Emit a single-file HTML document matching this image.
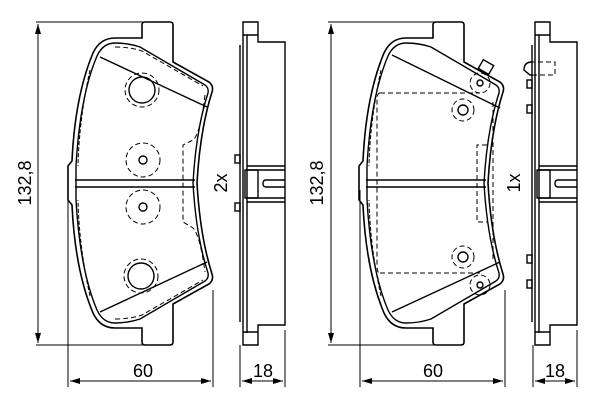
<!DOCTYPE html>
<html><head><style>body{margin:0;background:#fff}svg{display:block}</style></head><body>
<svg width="600" height="400" viewBox="0 0 600 400" xmlns="http://www.w3.org/2000/svg" font-family="Liberation Sans, sans-serif">
<defs>
<marker id="a" markerWidth="10" markerHeight="6" refX="10" refY="3" orient="auto-start-reverse" markerUnits="userSpaceOnUse"><path d="M0,0 L10,3 L0,6 z" fill="#000"/></marker>
<g id="pad">
<path d="M142,38 L142,25 Q142,22 145,22 L170,22 Q173,22 173,25 L173,62 L209,82 Q214,86 212,92 Q200,130 197,183 Q200,236 212,274 Q214,280 209,284 L173,304 L173,342 Q173,345 170,345 L145,345 Q142,345 142,342 L142,328 L115,328 Q100,328 93,313 Q75,270 72,205 L68,200 L68,166 L72,161 Q75,96 93,53 Q100,38 115,38 Z" fill="none" stroke="#000" stroke-width="1.6"/>
<path d="M115,43 Q128,43 140,47 L205,85 Q209,88 208,93 Q196,130 193,183 Q196,236 208,273 Q209,278 205,281 L140,319 Q128,323 115,323 Q103,323 97,310 Q80,270 76,200 L76,166 Q80,96 97,56 Q103,43 115,43 Z" fill="none" stroke="#000" stroke-width="1.4"/>
<path d="M90,70 Q79,120 78,166 M90,296 Q79,246 78,200" fill="none" stroke="#000" stroke-width="1" stroke-dasharray="4,2"/>
<path d="M75,180 L195,180 M75,187 L195,187" stroke="#000" stroke-width="1.5"/>
</g>
<g id="side" fill="none" stroke="#000" stroke-width="1.4">
<path d="M243,22 L258,22 L258,42 L285,42 L285,325 L258,325 L258,345 L243,345 Z"/>
<path d="M240,45 L240,322 M247,35 L247,333 M243,35 L258,35 M243,332 L258,332"/>
<path d="M247,166 L285,166 M247,170 L285,170 M247,198 L285,198 M247,202 L285,202"/>
<rect x="245" y="170" width="13" height="28"/>
<path d="M285,180 L266,180 Q263,180 263,183.5 Q263,187 266,187 L285,187"/>
</g>
</defs>
<g fill="none" stroke="#000" stroke-width="1">
<path d="M36,22 L145,22 M36,345 L145,345 M68,190 L68,387 M213,290 L213,387 M240,345 L240,387 M285,330 L285,387"/>
<path d="M38,24 L38,343" marker-start="url(#a)" marker-end="url(#a)"/>
<path d="M70,381 L211,381" marker-start="url(#a)" marker-end="url(#a)"/>
<path d="M242,381 L283,381" marker-start="url(#a)" marker-end="url(#a)"/>
<path d="M328,22 L436,22 M328,345 L436,345 M360,190 L360,387 M505,290 L505,387 M533,345 L533,387 M577,330 L577,387"/>
<path d="M331,24 L331,343" marker-start="url(#a)" marker-end="url(#a)"/>
<path d="M362,381 L503,381" marker-start="url(#a)" marker-end="url(#a)"/>
<path d="M535,381 L575,381" marker-start="url(#a)" marker-end="url(#a)"/>
</g>
<use href="#pad"/>
<use href="#pad" transform="translate(291,0)"/>
<use href="#side"/>
<use href="#side" transform="translate(292,0)"/>
<g fill="none" stroke="#000" stroke-width="1.4">
<path d="M100,57 L207,107 M100,312 L207,262"/>
<circle cx="142" cy="90" r="13"/><circle cx="141" cy="276" r="13"/>
<circle cx="143" cy="160" r="4"/><circle cx="143" cy="207" r="4"/>
<path d="M392,55 L500,108 M392,312 L500,262"/>
<circle cx="463" cy="110" r="5"/><circle cx="463" cy="257" r="5"/>
<circle cx="480" cy="83" r="3"/><circle cx="480" cy="285" r="3"/>
<rect x="480" y="62" width="12" height="10" transform="rotate(30 486 67)"/>
<rect x="235" y="155" width="5" height="8"/><rect x="235" y="203" width="5" height="8"/>
<rect x="527" y="105" width="5" height="8"/><rect x="527" y="255" width="5" height="8"/><rect x="527" y="280" width="5" height="8"/><rect x="527" y="80" width="5" height="8"/>
<path d="M532,62 Q524,62 524,70 L530,75 L532,75"/>
</g>
<g fill="none" stroke="#000" stroke-width="1" stroke-dasharray="5,3">
<circle cx="142" cy="90" r="17"/><circle cx="141" cy="276" r="17"/>
<circle cx="143" cy="160" r="17"/><circle cx="143" cy="207" r="17"/>
<path d="M205,95 Q200,135 193,140 L183,145 L183,222 L193,228 Q200,235 205,272"/>
<path d="M115,47 Q130,47 142,51 L203,86"/>
<path d="M115,319 Q130,319 142,315 L203,280"/>
<circle cx="463" cy="110" r="11"/><circle cx="463" cy="257" r="11"/>
<circle cx="480" cy="83" r="10"/><circle cx="480" cy="285" r="10"/>
<path d="M493,102 L493,260 M380,93 L480,93 M380,273 L480,273 M380,93 Q377,93 377,100 L377,266 Q377,273 380,273"/>
<path d="M487,145 L477,145 L477,222 L487,222"/>
<path d="M285,45 L285,322 M577,45 L577,322"/>
<path d="M530,62 L555,62 L555,75 L530,75"/>
</g>
<g fill="#000" font-size="18">
<text x="143" y="377" text-anchor="middle">60</text>
<text x="263" y="377" text-anchor="middle">18</text>
<text x="433" y="377" text-anchor="middle">60</text>
<text x="555" y="377" text-anchor="middle">18</text>
<text transform="translate(31,183) rotate(-90)" text-anchor="middle">132,8</text>
<text transform="translate(323,183) rotate(-90)" text-anchor="middle">132,8</text>
<text transform="translate(227,183) rotate(-90)" text-anchor="middle">2x</text>
<text transform="translate(520,183) rotate(-90)" text-anchor="middle">1x</text>
</g>
</svg>
</body></html>
